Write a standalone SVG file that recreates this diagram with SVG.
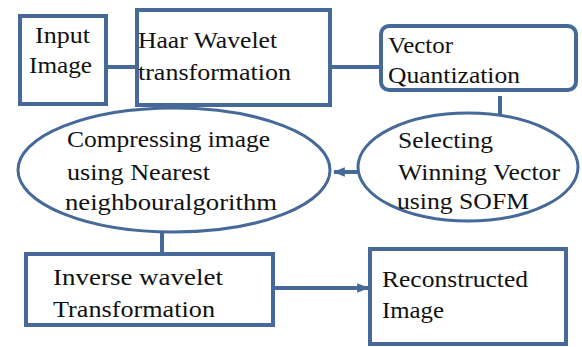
<svg xmlns="http://www.w3.org/2000/svg" width="582" height="347" viewBox="0 0 582 347">
<style>
.box{fill:#fff;stroke:#46699a;stroke-width:4}
.ell{fill:#fff;stroke:#46699a;stroke-width:3}
.ln{fill:none;stroke:#46699a;stroke-width:4}
</style>
<defs>
<marker id="ah" viewBox="0 0 10 10" refX="9" refY="5" markerWidth="3" markerHeight="3" orient="auto" markerUnits="strokeWidth">
<path d="M0,1 L10,5 L0,9 z" fill="#46699a"/>
</marker>
</defs>
<rect width="582" height="347" fill="#fff"/>
<g id="connectors">
<line class="ln" x1="108" y1="67" x2="137" y2="67"/>
<line class="ln" x1="330" y1="67" x2="381" y2="67"/>
<line class="ln" x1="500" y1="96" x2="500" y2="114"/>
<line class="ln" x1="364" y1="172" x2="334" y2="172" marker-end="url(#ah)"/>
<line class="ln" x1="162" y1="231" x2="162" y2="252"/>
<line class="ln" x1="275" y1="288" x2="368" y2="288" marker-end="url(#ah)"/>
</g>
<g font-family="Liberation Serif, Times New Roman, DejaVu Serif, serif" font-size="24" fill="#111" lengthAdjust="spacingAndGlyphs">
<g id="input">
<rect class="box" x="20" y="16" width="86" height="88"/>
<text x="35" y="43" textLength="55" lengthAdjust="spacingAndGlyphs">Input</text>
<text x="29" y="73" textLength="63" lengthAdjust="spacingAndGlyphs">Image</text>
</g>
<g id="haar">
<rect class="box" x="137" y="10" width="193" height="95"/>
<text x="138" y="48" textLength="139" lengthAdjust="spacingAndGlyphs">Haar Wavelet</text>
<text x="138" y="80" textLength="153" lengthAdjust="spacingAndGlyphs">transformation</text>
</g>
<g id="vq">
<rect class="box" x="381" y="26" width="195" height="64" rx="8" stroke-width="3"/>
<text x="388" y="53" textLength="65" lengthAdjust="spacingAndGlyphs">Vector</text>
<text x="388" y="83" textLength="132" lengthAdjust="spacingAndGlyphs">Quantization</text>
</g>
<g id="compress">
<ellipse class="ell" cx="174" cy="170" rx="156" ry="62"/>
<text x="67" y="147" textLength="203" lengthAdjust="spacingAndGlyphs">Compressing image</text>
<text x="67" y="180" textLength="143" lengthAdjust="spacingAndGlyphs">using Nearest</text>
<text x="65" y="210" textLength="212" lengthAdjust="spacingAndGlyphs">neighbouralgorithm</text>
</g>
<g id="select">
<ellipse class="ell" cx="468" cy="167" rx="110" ry="54"/>
<text x="398" y="148" textLength="95" lengthAdjust="spacingAndGlyphs">Selecting</text>
<text x="398" y="180" textLength="162" lengthAdjust="spacingAndGlyphs">Winning Vector</text>
<text x="397" y="209" textLength="132" lengthAdjust="spacingAndGlyphs">using SOFM</text>
</g>
<g id="inverse">
<rect class="box" x="26" y="254" width="247" height="71"/>
<text x="53" y="285" textLength="170" lengthAdjust="spacingAndGlyphs">Inverse wavelet</text>
<text x="53" y="317" textLength="162" lengthAdjust="spacingAndGlyphs">Transformation</text>
</g>
<g id="recon">
<rect class="box" x="370" y="249" width="196" height="95"/>
<text x="382" y="287" textLength="146" lengthAdjust="spacingAndGlyphs">Reconstructed</text>
<text x="382" y="318" textLength="62" lengthAdjust="spacingAndGlyphs">Image</text>
</g>
</g>
</svg>
